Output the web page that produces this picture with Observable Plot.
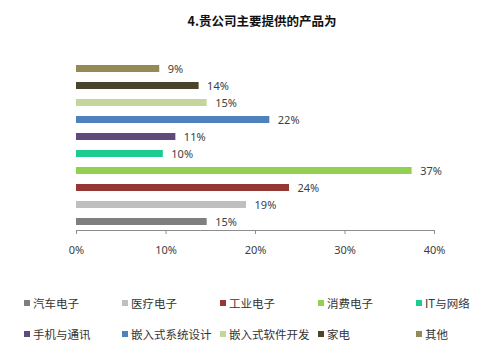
<!DOCTYPE html>
<html>
<head>
<meta charset="utf-8">
<script src="https://cdn.jsdelivr.net/npm/d3@7"></script>
<script src="https://cdn.jsdelivr.net/npm/@observablehq/plot@0.6"></script>
<style>
  html, body { margin: 0; padding: 0; background: #fff; }
  body { width: 500px; height: 351px; overflow: hidden; font-family: "Noto Sans CJK SC", "Noto Sans", sans-serif; }
  #title { height: 40px; box-sizing: border-box; padding-left: 24px; text-align: center; font-weight: bold; font-size: 12.5px; line-height: 42px; color: #111; }
  #chart svg { display: block; }
  #legend { display: grid; grid-template-columns: repeat(5, 98px); padding-left: 24px; row-gap: 0; margin-top: 12px; }
  .item { height: 31px; display: flex; align-items: center; font-size: 11.5px; color: #333; white-space: nowrap; }
  .sw { width: 6px; height: 6px; margin-right: 3px; flex: none; }
</style>
</head>
<body>
<div id="title">4.贵公司主要提供的产品为</div>
<div id="chart"></div>
<div id="legend"></div>
<script>
const categories = ["汽车电子","医疗电子","工业电子","消费电子","IT与网络","手机与通讯","嵌入式系统设计","嵌入式软件开发","家电","其他"];
const values = [14.6, 19.0, 23.8, 37.5, 9.7, 11.1, 21.6, 14.6, 13.7, 9.3];
const labels = ["15%","19%","24%","37%","10%","11%","22%","15%","14%","9%"];
const colors = ["#7f7f7f","#bfbfbf","#953735","#92d050","#1ccb8f","#604a7b","#4f81bd","#c3d69b","#4a452a","#948a54"];
const xTicks = [0, 10, 20, 30, 40];

const data = categories.map((c, i) => ({cat: c, value: values[i], label: labels[i]}));

const chart = Plot.plot({
  width: 500,
  height: 235,
  marginLeft: 76,
  marginRight: 66,
  marginTop: 20,
  marginBottom: 45,
  style: {fontFamily: "'Noto Sans', 'Noto Sans CJK SC', sans-serif", fontSize: "11px", color: "#404040", background: "white"},
  x: {domain: [0, 40], ticks: xTicks, tickFormat: d => d + "%", label: null},
  y: {domain: categories.slice().reverse(), paddingInner: 0.6, paddingOuter: 0.3, axis: null},
  color: {domain: categories, range: colors},
  marks: [
    Plot.barX(data, {x: "value", y: "cat", fill: "cat"}),
    Plot.text(data, {x: "value", y: "cat", text: "label", textAnchor: "start", dx: 8, fill: "#404040", fontSize: 11}),
    Plot.frame({anchor: "bottom", stroke: "#8c8c8c"}),
    Plot.axisX({ticks: xTicks, tickFormat: d => d + "%", tickSize: 4, tickPadding: 12, stroke: "#8c8c8c", fill: "#404040", label: null})
  ]
});
document.getElementById("chart").appendChild(chart);

const legend = document.getElementById("legend");
categories.forEach((c, i) => {
  const item = document.createElement("div");
  item.className = "item";
  const sw = document.createElement("span");
  sw.className = "sw";
  sw.style.background = colors[i];
  const t = document.createElement("span");
  t.textContent = c;
  item.appendChild(sw);
  item.appendChild(t);
  legend.appendChild(item);
});
</script>
</body>
</html>
